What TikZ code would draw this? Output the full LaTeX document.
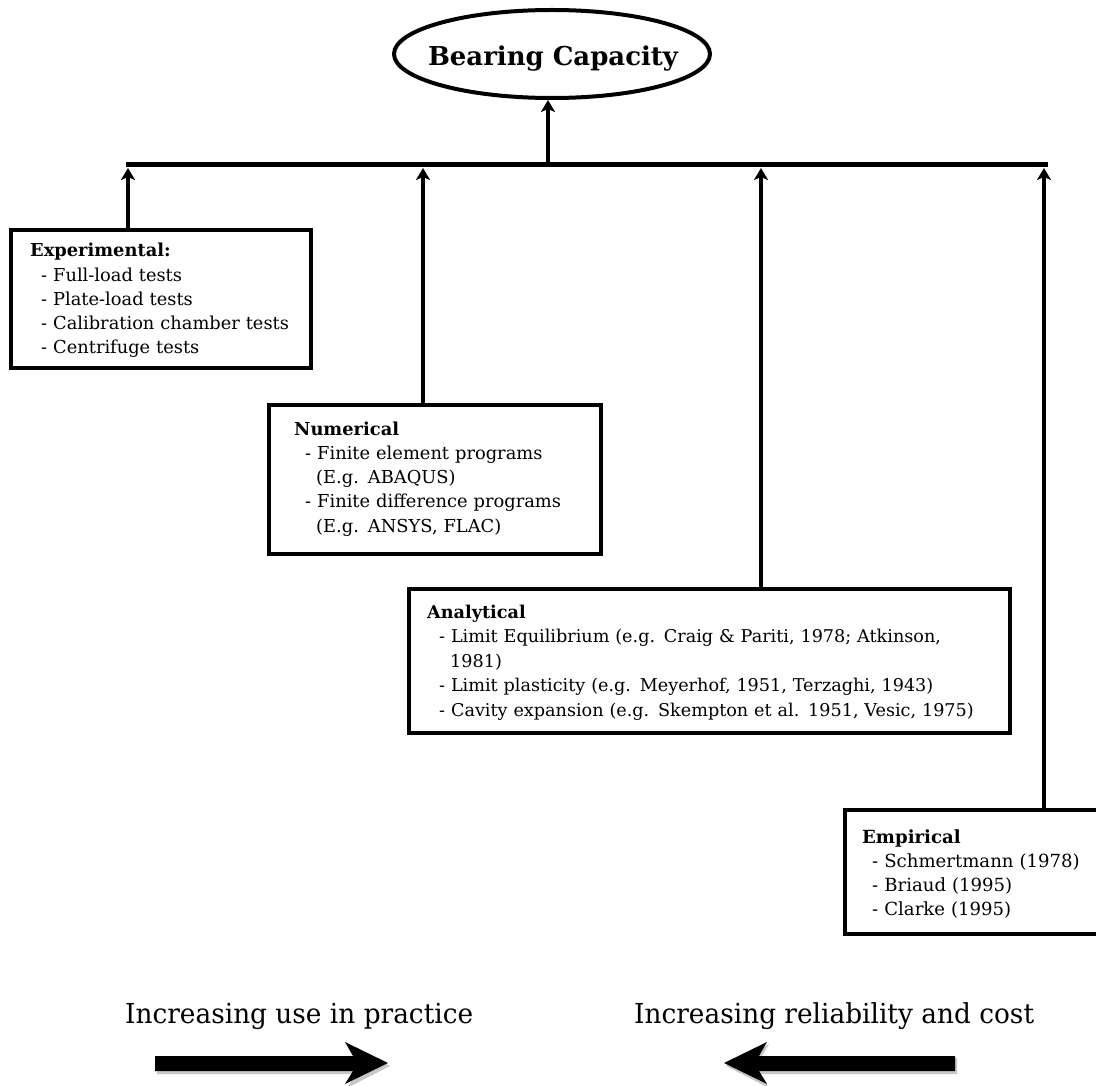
\documentclass[tikz,border=0pt]{standalone}
\usepackage{fontspec}
\setmainfont{DejaVu Serif}
\usepackage{graphicx}
\usetikzlibrary{arrows.meta,shapes.geometric}
\newlength\mylen
\AtBeginDocument{%
\settowidth\mylen{\fontsize{10}{10}\selectfont\bfseries Bearing Capacity}%
\pgfmathsetmacro\fsbc{10*250/\mylen}%
\settowidth\mylen{\fontsize{10}{10}\selectfont - Calibration chamber tests}%
\pgfmathsetmacro\fsexp{10*247/\mylen}%
\settowidth\mylen{\fontsize{10}{10}\selectfont - Finite difference programs}%
\pgfmathsetmacro\fsnum{10*255/\mylen}%
\settowidth\mylen{\fontsize{10}{10}\selectfont - Cavity expansion (e.g. Skempton et al. 1951, Vesic, 1975)}%
\pgfmathsetmacro\fsana{10*530/\mylen}%
\settowidth\mylen{\fontsize{10}{10}\selectfont - Schmertmann (1978)}%
\pgfmathsetmacro\fsemp{10*207/\mylen}%
\settowidth\mylen{\fontsize{27.5}{27.5}\selectfont Increasing use in practice}%
\pgfmathsetmacro\bsx{348/\mylen}%
\global\let\fsbc\fsbc\global\let\fsexp\fsexp\global\let\fsnum\fsnum
\global\let\fsana\fsana\global\let\fsemp\fsemp\global\let\bsx\bsx}
\begin{document}
\begin{tikzpicture}[x=1pt,y=-1pt,
  conn/.style={line width=4pt,-{Stealth[length=12pt,width=14pt,inset=3pt]}},
  busline/.style={line width=5pt},
  boxframe/.style={draw,line width=4pt,rectangle,anchor=north west,inner sep=0pt},
  txt/.style={anchor=base west,inner sep=0pt,align=left,text width=640pt},
  bigarrow/.style={fill=black},
  arrowshadow/.style={fill=black!22}]
\useasboundingbox (0,0) rectangle (1096,1086);
\clip (0,0) rectangle (1096,1086);
\fill[white] (0,0) rectangle (1096,1086);

% top ellipse
\node[draw,ellipse,line width=4pt,minimum width=316pt,minimum height=88pt,inner sep=0pt]
  (bc) at (552,54) {};
\node[anchor=base,inner sep=0pt,font=\fontsize{\fsbc}{\fsbc}\selectfont\bfseries]
  (bcT) at (553,66) {Bearing Capacity};

% bus
\coordinate (bL) at (126,165);
\coordinate (bR) at (1048,165);
\coordinate (bM) at (548,165);
\coordinate (c1) at (128,168);
\coordinate (c2) at (423,168);
\coordinate (c3) at (761,168);
\coordinate (c4) at (1044,168);
\draw[busline] (bL) -- (bR);
\draw[conn] (bM) -- (bM |- bc.south);

% boxes
\node[boxframe,minimum width=300pt,minimum height=138pt] (exp) at (9,228) {};
\node[boxframe,minimum width=332pt,minimum height=149pt] (num) at (267,403) {};
\node[boxframe,minimum width=601pt,minimum height=144pt] (ana) at (407,587) {};
\node[boxframe,minimum width=280pt,minimum height=124pt] (emp) at (843,808) {};

% box texts
\node[txt,font=\fontsize{\fsexp}{24.2}\selectfont] (expT) at (30,257) {\textbf{Experimental:}\\
\hspace*{11pt}- Full-load tests\\
\hspace*{11pt}- Plate-load tests\\
\hspace*{11pt}- Calibration chamber tests\\
\hspace*{11pt}- Centrifuge tests};

\node[txt,font=\fontsize{\fsnum}{24.3}\selectfont] (numT) at (294,435) {\textbf{Numerical}\\
\hspace*{11pt}- Finite element programs\\
\hspace*{22pt}(E.g. ABAQUS)\\
\hspace*{11pt}- Finite difference programs\\
\hspace*{22pt}(E.g. ANSYS, FLAC)};

\node[txt,font=\fontsize{\fsana}{24.5}\selectfont] (anaT) at (427,618) {\textbf{Analytical}\\
\hspace*{12pt}- Limit Equilibrium (e.g. Craig \& Pariti, 1978; Atkinson,\\
\hspace*{23pt}1981)\\
\hspace*{12pt}- Limit plasticity (e.g. Meyerhof, 1951, Terzaghi, 1943)\\
\hspace*{12pt}- Cavity expansion (e.g. Skempton et al. 1951, Vesic, 1975)};

\node[txt,font=\fontsize{\fsemp}{24.3}\selectfont] (empT) at (862,843) {\textbf{Empirical}\\
\hspace*{10pt}- Schmertmann (1978)\\
\hspace*{10pt}- Briaud (1995)\\
\hspace*{10pt}- Clarke (1995)};

% connectors from boxes to bus
\draw[conn] (exp.north -| c1) -- (c1);
\draw[conn] (num.north -| c2) -- (c2);
\draw[conn] (ana.north -| c3) -- (c3);
\draw[conn] (emp.north -| c4) -- (c4);

% bottom texts
\node[anchor=base west,inner sep=0pt] (t1) at (125,1023)
  {\scalebox{\bsx}[1]{\fontsize{27.5}{27.5}\selectfont Increasing use in practice}};
\node[anchor=base west,inner sep=0pt] (t2) at (634,1023)
  {\scalebox{\bsx}[1]{\fontsize{27.5}{27.5}\selectfont Increasing reliability and cost}};

% bottom block arrows (with faint shadow)
\fill[arrowshadow] (157,1058) -- (356,1058) -- (347,1044) -- (390,1066) -- (347,1088)
  -- (356,1074) -- (157,1074) -- cycle;
\fill[bigarrow] (155,1056) -- (353,1056) -- (345,1042) -- (388,1063) -- (345,1084)
  -- (353,1071) -- (155,1071) -- cycle;
\fill[arrowshadow] (957,1058) -- (761,1058) -- (769,1044) -- (726,1066) -- (769,1088)
  -- (761,1074) -- (957,1074) -- cycle;
\fill[bigarrow] (955,1056) -- (759,1056) -- (767,1042) -- (724,1063) -- (767,1084)
  -- (759,1071) -- (955,1071) -- cycle;
\end{tikzpicture}
\end{document}
